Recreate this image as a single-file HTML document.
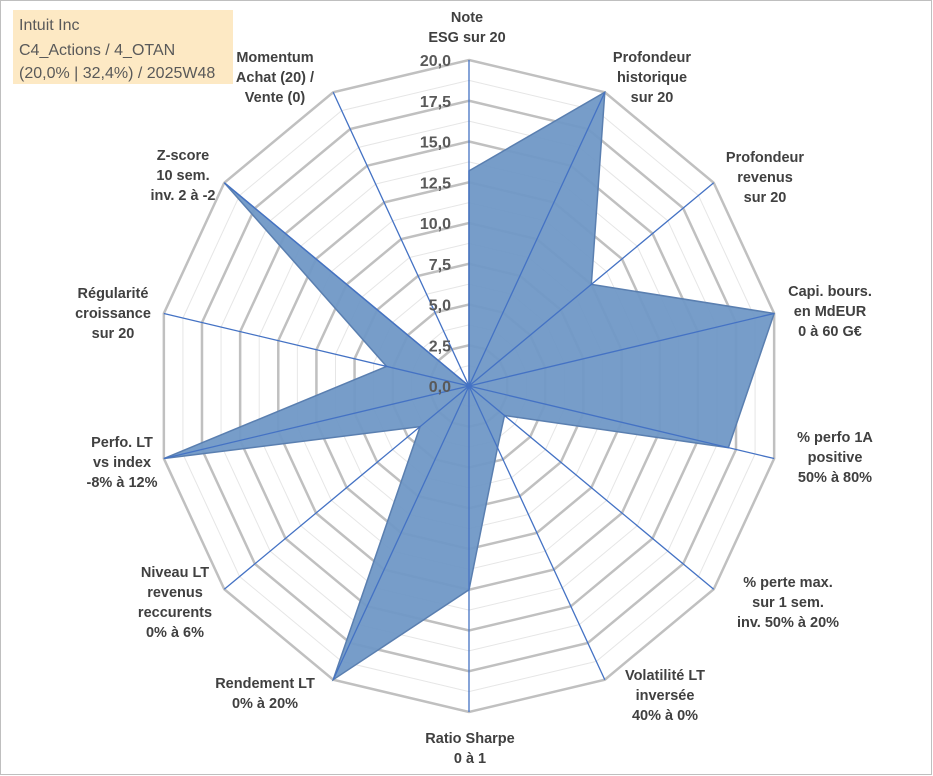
<!DOCTYPE html>
<html><head><meta charset="utf-8">
<style>
body{margin:0;background:#fff;}
#wrap{position:relative;width:933px;height:776px;overflow:hidden;font-family:"Liberation Sans",sans-serif;}
svg{position:absolute;left:0;top:0;}
</style></head>
<body>
<div id="wrap">
<svg id="chart" width="933" height="776">
<rect x="0.5" y="0.5" width="931" height="774" fill="#fff" stroke="#bfbfbf"/>
<rect x="13" y="10" width="220" height="74" fill="#fde9c4"/>
<text x="19" y="30" font-size="16" fill="#595959">Intuit Inc</text>
<text x="19" y="55" font-size="16" fill="#595959">C4_Actions / 4_OTAN</text>
<text x="19" y="78" font-size="16" fill="#595959">(20,0% | 32,4%) / 2025W48</text>
<g id="grid"></g><g id="series"></g><g id="axes"></g><g id="labels"></g><g id="ticks"></g>
</svg>
</div>
<script>
const categories = [
 ["Note","ESG sur 20"],
 ["Profondeur","historique","sur 20"],
 ["Profondeur","revenus","sur 20"],
 ["Capi. bours.","en MdEUR","0 à 60 G€"],
 ["% perfo 1A","positive","50% à 80%"],
 ["% perte max.","sur 1 sem.","inv. 50% à 20%"],
 ["Volatilité LT","inversée","40% à 0%"],
 ["Ratio Sharpe","0 à 1"],
 ["Rendement LT","0% à 20%"],
 ["Niveau LT","revenus","reccurents","0% à 6%"],
 ["Perfo. LT","vs index","-8% à 12%"],
 ["Régularité","croissance","sur 20"],
 ["Z-score","10 sem.","inv. 2 à -2"],
 ["Momentum","Achat (20) /","Vente (0)"]
];
const values = [13.2, 20, 10, 20, 17, 2.9, 4.2, 12.5, 20, 4, 20, 5.4, 20, 0];
const tickLabels = ["0,0","2,5","5,0","7,5","10,0","12,5","15,0","17,5","20,0"];
const labelAnchors = [[467,22],[652,62],[765,162],[830,296],[835,442],[788,587],[665,680],[470,743],[265,688],[175,577],[122,447],[113,298],[183,160],[275,62]];

const cx=469, cy=386, Rx=313, Ry=326, maxV=20, N=categories.length;
const NS="http://www.w3.org/2000/svg";
function ang(i){return i*2*Math.PI/N;}
function pt(i,v){const f=v/maxV;return [cx+f*Rx*Math.sin(ang(i)), cy-f*Ry*Math.cos(ang(i))];}
function mk(tag,attrs,parent){const e=document.createElementNS(NS,tag);for(const k in attrs)e.setAttribute(k,attrs[k]);parent.appendChild(e);return e;}
const grid=document.getElementById('grid');
for(let k=1;k<=16;k++){
  const v=k*1.25;const pts=[];for(let i=0;i<N;i++)pts.push(pt(i,v).join(','));
  const major=k%2===0;
  const g=mk('polygon',{points:pts.join(' '),fill:'none',stroke:major?'#c0c0c0':'#e6e6e6','stroke-width':major?2.5:1},grid);
  
  
}
const series=document.getElementById('series');
const poly=mk('polygon',{points:values.map((v,i)=>pt(i,v).join(',')).join(' '),fill:'#7098c6','fill-opacity':'0.95',stroke:'#5a7fb0','stroke-width':1.5},series);


const axes=document.getElementById('axes');
for(let i=0;i<N;i++){
  const p=pt(i,maxV);
  const l=mk('line',{x1:cx,y1:cy,x2:p[0],y2:p[1],stroke:'#4472c4','stroke-width':1.3},axes);
  
  
}
const labels=document.getElementById('labels');
categories.forEach((lines,i)=>{
  const [x,y]=labelAnchors[i];
  const t=mk('text',{x:x,y:y,'font-size':14.5,'font-weight':'bold',fill:'#404040','text-anchor':'middle'},labels);
  
  
  lines.forEach((s,j)=>{const ts=mk('tspan',{x:x,dy:j===0?0:20},t);ts.textContent=s;});
});
const ticks=document.getElementById('ticks');
tickLabels.forEach((s,k)=>{
  const v=k*2.5;const y=cy-v/maxV*Ry;
  const t=mk('text',{x:cx-18,y:y+6,'font-size':16,'font-weight':'bold',fill:'#595959','text-anchor':'end'},ticks);
  
  
  t.textContent=s;
});
</script>
</body></html>
